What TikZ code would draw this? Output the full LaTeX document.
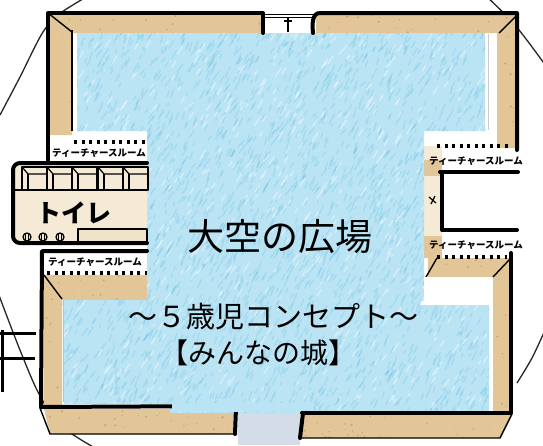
\documentclass[tikz,border=0pt]{standalone}
\usepackage{fontspec}
\newfontfamily\jp{Noto Sans CJK JP}
\definecolor{sky}{RGB}{186,228,244}
\definecolor{skydeep}{RGB}{80,178,222}
\definecolor{tanwall}{RGB}{226,198,152}
\definecolor{tandeep}{RGB}{165,120,72}
\definecolor{cream}{RGB}{244,234,214}
\definecolor{doorgray}{RGB}{212,220,232}
\tikzset{
  wall/.style={line width=4pt, black, line cap=round},
  thinwall/.style={line width=1.4pt, black},
  dotwall/.style={line width=3.2pt, black, dash pattern=on 3pt off 4.5pt},
  circ/.style={line width=1.3pt, black!85},
  roomlabel/.style={inner sep=0pt, font=\jp\bfseries\fontsize{9.5}{9.5}\selectfont},
  bigtext/.style={inner sep=0pt, text=black}
}
\def\skyregion{(77,33) rectangle (485,131) (147,130) rectangle (424,301)
  (64,300) rectangle (421,404) (420,305) rectangle (489,404) (170,403) rectangle (489,413)}
\def\tanregion{(50,15) rectangle (263,33) (316,15) rectangle (516,33)
  (50,15) rectangle (72,135) (497,15) rectangle (516,148)
  (44,275) rectangle (147,300) (44,275) rectangle (62,405)
  (428,258) rectangle (510,277) (493,258) rectangle (510,412)
  (44,409) -- (236,409) -- (236,434) -- (50,434) -- cycle
  (303,414) -- (512,414) -- (500,438) -- (300,438) -- cycle}
\begin{document}
\begin{tikzpicture}[x=1pt,y=-1pt,line join=round]
\useasboundingbox (0,0) rectangle (543,445);
\clip (0,0) rectangle (543,445);
\fill[white] (0,0) rectangle (543,445);

% the big ring around the building
\draw[circ] plot[smooth] coordinates {(102,-12) (62,12) (43,32) (20,77) (0,115)};
\draw[circ] plot[smooth] coordinates {(484,-6) (515,25) (546,66)};
\draw[circ] plot[smooth] coordinates {(-3,290) (18,345) (38,392) (60,425) (95,448)};
\draw[circ] plot[smooth] coordinates {(546,328) (532,358) (517,383)};

% fence on the left
\draw[line width=3pt] (2,330) -- (2,392);
\draw[line width=3pt] (0,333) -- (36,333);
\draw[line width=3pt] (0,358) -- (35,358);

% wall bands
\fill[tanwall] \tanregion;
\begin{scope}
  \clip \tanregion;
  \pgfmathsetseed{7}
  \foreach \i in {1,...,900}{
    \pgfmathsetmacro\px{40+480*rnd}
    \pgfmathsetmacro\py{10+430*rnd}
    \fill[tandeep, opacity=0.45] (\px,\py) circle (0.4+0.8*rnd);
  }
\end{scope}

% corridor strip on the right
\fill[cream] (424,146) rectangle (442,258);
\fill[tanwall] (424,160) rectangle (442,176);
\fill[tanwall] (424,236) rectangle (442,258);
\draw[line width=1.2pt] (429,197) -- (436,203) (431,204) -- (435,196);

% door at the bottom
\fill[doorgray] (238,413) rectangle (300,445);

% sky blue floor, coloured in with short crayon strokes
\fill[sky] \skyregion;
\begin{scope}
  \clip \skyregion;
  \pgfmathsetseed{3}
  \foreach \i in {1,...,2600}{
    \pgfmathsetmacro\px{55+440*rnd}
    \pgfmathsetmacro\py{30+395*rnd}
    \pgfmathsetmacro\len{3+7*rnd}
    \pgfmathsetmacro\ang{50+25*rnd}
    \draw[skydeep, opacity=0.22, line width=1.3pt, line cap=round]
      (\px,\py) -- ++({\len*cos(\ang)},{-\len*sin(\ang)});
  }
  \pgfmathsetseed{11}
  \foreach \i in {1,...,700}{
    \pgfmathsetmacro\px{55+440*rnd}
    \pgfmathsetmacro\py{30+395*rnd}
    \pgfmathsetmacro\len{3+7*rnd}
    \draw[white, opacity=0.4, line width=1.4pt, line cap=round]
      (\px,\py) -- ++(0.55*\len,-0.83*\len);
  }
\end{scope}
\draw[black!25, line width=0.6pt] (63,300) -- (63,402);
\draw[black!20, line width=0.6pt] (488,34) -- (488,130);

% outer walls
\draw[wall] (48,163) -- (48,13) -- (263,13) -- (263,33);
\draw[wall] (313,33) to[out=95,in=180] (320,13) -- (517,13) -- (517,150);
\draw[thinwall] (48,13) -- (72,32);
\draw[thinwall] (517,15) -- (499,33);
\draw[thinwall] (72,30) -- (72,131);
% top entrance
\draw[line width=1pt] (263,14) -- (316,14) (263,17.5) -- (316,17.5);
\draw[line width=1.6pt] (288,17.5) -- (288,32) (284,21) -- (292,21);

% teacher room, upper left
\draw[dotwall] (74,142) -- (147,142);
\node[roomlabel] (tl) at (99,153) {ティーチャースルーム};

% toilet block
\fill[cream, rounded corners=6] (14,163) rectangle (147,243);
\foreach \sx in {22,47,72,98,123}{
  \draw[line width=1.5pt] (\sx,167) rectangle ++(25,23);
  \draw[line width=1.2pt] (\sx,167) -- ++(6,7) -- ++(19,0);
  \draw[line width=1.2pt] (\sx+6,174) -- (\sx+6,190);
}
\draw[line width=1.5pt] (14,190) -- (147,190);
\node[inner sep=0pt, font=\jp\bfseries\fontsize{25}{25}\selectfont] (toilet) at (74,213) {トイレ};
\foreach \sx in {27,43,60}{
  \draw[line width=1.3pt] (\sx,237) circle (4);
  \draw[line width=1pt] (\sx-1.5,234) -- (\sx-1.5,240) (\sx+1.5,234) -- (\sx+1.5,240);
}
\draw[line width=1.4pt, fill=cream!80!tanwall] (78,229) rectangle (147,242);
\draw[wall, rounded corners=7] (147,163) -- (13,163) -- (13,243) -- (147,243);

% teacher room, lower left
\draw[wall] (147,251) -- (42,251) -- (41,407) -- (236,406);
\node[roomlabel] (bl) at (95,262) {ティーチャースルーム};
\draw[dotwall] (47,273) -- (147,273);
\draw[thinwall] (44,275) -- (62,299);
\draw[thinwall] (40,408) -- (50,434) -- (236,434);
\draw[wall] (236,408) -- (235,434);

% right side rooms
\draw[dotwall] (437,146) -- (510,146);
\node[roomlabel] (tr) at (476,161) {ティーチャースルーム};
\draw[wall] (440,172) -- (518,172);
\draw[wall] (442,172) -- (442,230) -- (517,230);
\node[roomlabel] (br) at (476,245) {ティーチャースルーム};
\draw[dotwall] (437,257) -- (507,257);
\draw[thinwall] (437,258) -- (426,277);
\draw[thinwall] (510,259) -- (493,277);
\fill[white] (424,277) rectangle (490,304);

% lower right walls
\draw[wall] (511,253) -- (511,413) -- (302,413);
\draw[wall] (303,413) -- (300,438);
\draw[thinwall] (300,438) -- (500,438) -- (512,414);
\fill[sky] (172,403) rectangle (300,412);

% titles
\node[bigtext, font=\jp\fontsize{37}{37}\selectfont] (title) at (280,237) {大空の広場};
\node[bigtext, font=\jp\fontsize{29}{29}\selectfont] (concept) at (273,317) {～５歳児コンセプト～};
\node[bigtext, font=\jp\fontsize{28}{28}\selectfont] (castle) at (258,353) {【みんなの城】};
\end{tikzpicture}
\end{document}
